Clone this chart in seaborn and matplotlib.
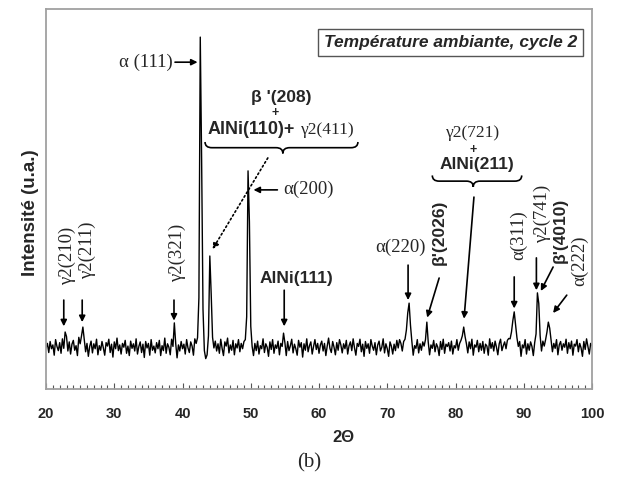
import numpy as np
import pandas as pd
import matplotlib
matplotlib.use('Agg')
import matplotlib.pyplot as plt
from matplotlib.path import Path
from matplotlib.patches import PathPatch
import seaborn as sns

# XRD scan, 20-100 deg (2theta), step 0.2 deg, intensity in arbitrary units
scan_start = 20.0
scan_step = 0.2
intensity = [
    108, 120, 96, 125, 106, 116, 89, 130, 112, 101, 122, 94, 132, 107, 150, 138, 100, 124, 92, 118,
    128, 102, 114, 88, 136, 119, 140, 163, 131, 98, 120, 86, 112, 126, 95, 119, 106, 131, 90, 114,
    102, 125, 108, 89, 122, 113, 131, 96, 118, 84, 124, 106, 134, 101, 116, 92, 120, 110, 128, 94,
    113, 88, 126, 107, 119, 100, 132, 92, 112, 124, 96, 118, 83, 125, 108, 120, 89, 130, 102, 113,
    95, 122, 106, 128, 88, 114, 101, 134, 94, 119, 110, 90, 131, 112, 174, 120, 82, 116, 100, 125,
    106, 118, 92, 130, 108, 96, 124, 113, 89, 132, 120, 135, 240, 926, 600, 210, 101, 80, 90, 140,
    350, 250, 136, 108, 126, 100, 119, 94, 131, 107, 88, 124, 113, 134, 95, 116, 102, 128, 90, 119,
    108, 130, 98, 120, 106, 125, 130, 190, 574, 440, 165, 112, 88, 120, 101, 126, 92, 114, 106, 132,
    96, 119, 110, 86, 124, 104, 130, 94, 116, 107, 126, 90, 120, 112, 147, 122, 88, 125, 101, 114,
    131, 95, 118, 106, 89, 128, 110, 122, 84, 119, 102, 132, 98, 114, 124, 92, 112, 130, 104, 120,
    94, 116, 126, 100, 120, 88, 113, 134, 107, 96, 125, 110, 90, 122, 102, 130, 116, 95, 119, 106,
    128, 92, 114, 124, 101, 132, 108, 89, 120, 112, 131, 98, 118, 86, 125, 107, 119, 94, 130, 113,
    102, 122, 90, 116, 126, 100, 110, 132, 95, 119, 106, 86, 124, 113, 92, 118, 101, 128, 108, 130,
    120, 100, 125, 131, 155, 200, 226, 168, 126, 89, 114, 107, 130, 95, 119, 102, 124, 113, 130, 176,
    124, 90, 116, 107, 128, 98, 119, 110, 88, 125, 104, 131, 94, 118, 112, 122, 100, 126, 92, 114,
    108, 130, 102, 120, 128, 140, 163, 138, 119, 95, 124, 106, 131, 89, 116, 110, 128, 98, 120, 102,
    125, 94, 118, 113, 89, 132, 107, 122, 100, 126, 110, 90, 119, 131, 101, 114, 124, 106, 128, 133,
    132, 150, 180, 203, 170, 135, 112, 125, 86, 116, 108, 130, 92, 119, 102, 124, 112, 88, 122, 145,
    253, 225, 140, 100, 126, 113, 130, 150, 176, 160, 128, 98, 120, 107, 130, 90, 116, 125, 102, 119,
    110, 131, 94, 122, 106, 126, 89, 118, 113, 130, 98, 120, 108, 86, 125, 104, 132, 112, 92, 120,
    114,
]
x_ticks = [20, 30, 40, 50, 60, 70, 80, 90, 100]

SANS = 'Liberation Sans'
SERIF = 'Liberation Serif'

sns.set_theme(style='white')
plt.rcParams['font.family'] = [SANS, 'DejaVu Sans']

df = pd.DataFrame({
    'two_theta': scan_start + scan_step * np.arange(len(intensity)),
    'intensity': intensity,
})

fig = plt.figure(figsize=(6.17, 4.83), dpi=100)
ax = fig.add_axes([0.0746, 0.1946, 0.8849, 0.7868])
sns.lineplot(data=df, x='two_theta', y='intensity', ax=ax, color='black', lw=1.0)

ax.set_xlim(20, 100)
ax.set_ylim(0, 1000)
ax.set_xticks(x_ticks)
ax.set_xticks(np.arange(20, 101, 1), minor=True)
ax.set_yticks([])
ax.tick_params(axis='x', which='both', direction='in', bottom=True, color='#555555',
               width=0.8, pad=13, labelsize=10.5)
ax.tick_params(axis='x', which='major', length=4)
ax.tick_params(axis='x', which='minor', length=3)
for lab in ax.get_xticklabels():
    lab.set_fontweight('bold')
ax.set_xlabel('')
ax.set_ylabel('')
for sp in ax.spines.values():
    sp.set_color('#a0a0a0')
    sp.set_linewidth(1.3)

fig.text(0.556, 0.095, '2\u0398', ha='center', va='center', fontsize=12, fontweight='bold')
fig.text(0.049, 0.559, 'Intensité (u.a.)', ha='center', va='center', rotation=90,
         fontsize=13.5, fontweight='bold')
fig.text(0.501, 0.041, '(b)', ha='center', va='center', fontsize=15, family=SERIF)

ax.text(79.3, 911, 'Température ambiante, cycle 2', ha='center', va='center',
        fontsize=12.5, fontweight='bold', style='italic',
        bbox=dict(boxstyle='square,pad=0.35', facecolor='white', edgecolor='#555555', lw=1))


def arrow(x0, y0, x1, y1, ls='-'):
    ax.annotate('', xy=(x1, y1), xytext=(x0, y0),
                arrowprops=dict(arrowstyle='-|>', lw=1.2, color='black', ls=ls,
                                mutation_scale=9, shrinkA=0, shrinkB=0))


def brace(x0, x1, xm, y_top, y_tip, r=1.0):
    y_mid = (y_top + y_tip) / 2
    verts = [(x0, y_top), (x0, y_mid), (x0 + r, y_mid),
             (xm - r, y_mid), (xm, y_mid), (xm, y_tip),
             (xm, y_mid), (xm + r, y_mid),
             (x1 - r, y_mid), (x1, y_mid), (x1, y_top)]
    codes = [Path.MOVETO, Path.CURVE3, Path.CURVE3,
             Path.LINETO, Path.CURVE3, Path.CURVE3,
             Path.CURVE3, Path.CURVE3,
             Path.LINETO, Path.CURVE3, Path.CURVE3]
    ax.add_patch(PathPatch(Path(verts, codes), fill=False, lw=1.2, edgecolor='black'))


serif = dict(family=SERIF, fontsize=13.5)
bold = dict(fontweight='bold', fontsize=12.5)

# alpha(111)
ax.text(38.5, 860, '\u03b1 (111)', ha='right', va='center', **serif)
arrow(38.9, 860, 42.2, 860)

# beta'(208) + AlNi(110) + gamma2(411)
ax.text(54.4, 768, '\u03b2 \'(208)', ha='center', va='center', **bold)
ax.text(53.6, 726, '+', ha='center', va='center', fontweight='bold', fontsize=9)
ax.text(43.7, 682, 'AlNi(110)+', ha='left', va='center', fontweight='bold', fontsize=13)
ax.text(57.4, 682, '\u03b32(411)', ha='left', va='center', family=SERIF, fontsize=12.5)
brace(43.3, 65.7, 54.7, 650, 620)
arrow(52.5, 608, 44.4, 368, ls=':')

# alpha(200)
ax.text(54.7, 526, '\u03b1(200)', ha='left', va='center', **serif)
arrow(53.9, 524, 50.4, 524)

# gamma2(721) + AlNi(211)
ax.text(82.6, 674, '\u03b32(721)', ha='center', va='center', family=SERIF, fontsize=12.5)
ax.text(82.6, 630, '+', ha='center', va='center', fontweight='bold', fontsize=9)
ax.text(83.2, 590, 'AlNi(211)', ha='center', va='center', **bold)
brace(76.6, 89.7, 82.6, 562, 532)
arrow(82.7, 505, 81.25, 185)

# small peaks, vertical labels
ax.text(23.1, 350, '\u03b32(210)', ha='center', va='center', rotation=90, **serif)
arrow(22.6, 234, 22.6, 165)
ax.text(26.0, 366, '\u03b32(211)', ha='center', va='center', rotation=90, **serif)
arrow(25.3, 234, 25.3, 176)
ax.text(39.2, 358, '\u03b32(321)', ha='center', va='center', rotation=90, **serif)
arrow(38.75, 234, 38.75, 180)

ax.text(51.3, 292, 'AlNi(111)', ha='left', va='center', **bold)
arrow(54.9, 260, 54.9, 165)

ax.text(72.0, 374, '\u03b1(220)', ha='center', va='center', **serif)
arrow(73.05, 326, 73.05, 234)

ax.text(77.6, 413, '\u03b2\'(2026)', ha='center', va='center', rotation=90, **bold)
arrow(77.6, 292, 75.85, 188)

ax.text(89.2, 405, '\u03b1(311)', ha='center', va='center', rotation=90, **serif)
arrow(88.6, 295, 88.6, 212)

ax.text(92.7, 461, '\u03b32(741)', ha='center', va='center', rotation=90, **serif)
arrow(91.85, 345, 91.85, 260)

ax.text(95.3, 418, '\u03b2\'(4010)', ha='center', va='center', rotation=90, **bold)
arrow(94.3, 321, 92.5, 258)

ax.text(98.2, 337, '\u03b1(222)', ha='center', va='center', rotation=90, **serif)
arrow(96.3, 247, 94.3, 200)

fig.savefig('out.png', dpi=100)
